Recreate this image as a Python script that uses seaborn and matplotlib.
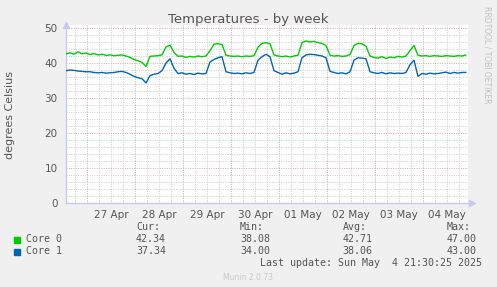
import matplotlib
matplotlib.use("Agg")
import matplotlib.pyplot as plt
import matplotlib.dates as mdates
import seaborn as sns
import pandas as pd
import numpy as np

# ---- data (2-hour samples) ----
start_time = "2025-04-26 13:30"
step_hours = 2

core0 = [42.6, 42.9, 42.5, 43.2, 42.6, 42.9, 42.4, 42.7, 42.3, 42.5,
         42.2, 42.3, 42.1, 42.2, 42.3, 42.0, 41.6, 41.0, 40.6, 40.2,
         39.0, 41.9, 42.0, 42.1, 42.3, 44.6, 45.1, 43.0, 41.9, 42.0,
         41.6, 41.9, 41.7, 42.0, 41.8, 42.0, 43.5, 45.4, 45.5, 45.3,
         42.2, 42.0, 41.9, 42.0, 41.8, 42.0, 41.9, 42.1, 44.5, 45.6,
         45.8, 45.5, 42.3, 42.0, 41.8, 42.0, 41.7, 42.0, 42.2, 45.8,
         46.3, 46.0, 46.2, 45.8, 45.6, 45.0, 42.2, 42.0, 42.1, 41.9,
         42.0, 42.4, 45.0, 45.6, 45.5, 44.8, 42.0, 41.6, 41.4, 41.8,
         41.3, 41.7, 41.5, 41.9, 41.7, 42.0, 43.5, 45.0, 42.2, 42.0,
         42.1, 41.9, 42.1, 42.0, 41.9, 42.1, 42.0, 41.9, 42.1, 42.0,
         42.3]
core1 = [37.8, 38.0, 37.9, 37.7, 37.6, 37.5, 37.5, 37.3, 37.2, 37.3,
         37.1, 37.2, 37.3, 37.5, 37.6, 37.3, 36.8, 36.2, 35.8, 35.5,
         34.3, 36.4, 36.8, 37.0, 37.8, 40.0, 41.2, 38.5, 37.0, 37.2,
         36.8, 37.0, 36.7, 37.1, 36.9, 37.0, 40.3, 41.0, 41.5, 41.8,
         37.5, 37.2, 37.0, 37.1, 36.9, 37.2, 37.0, 37.3, 40.8, 41.8,
         42.5, 41.8, 37.8, 37.3, 36.8, 37.2, 36.9, 37.1, 37.5, 41.5,
         42.3, 42.5, 42.4, 42.2, 42.0, 41.5, 37.6, 37.3, 37.0, 37.2,
         36.9, 37.5, 40.8, 41.5, 41.4, 41.2, 37.5, 37.2, 37.0, 37.3,
         36.9, 37.2, 37.0, 37.1, 37.0, 37.3, 39.5, 40.8, 36.2, 37.0,
         36.8, 37.1, 36.9, 37.0, 37.2, 37.4, 37.0, 37.3, 37.1, 37.3,
         37.3]
series_names = ["Core 0", "Core 1"]
series_colors = ["#00CC00", "#0066B3"]
stat_headers = ["Cur:", "Min:", "Avg:", "Max:"]
stats = [["42.34", "38.08", "42.71", "47.00"],
         ["37.34", "34.00", "38.06", "43.00"]]
title = "Temperatures - by week"
ylabel = "degrees Celsius"
last_update = "Last update: Sun May  4 21:30:25 2025"
footer = "Munin 2.0.73"
side_text = "RRDTOOL / TOBI OETIKER"
x_start = "2025-04-26 13:30"
x_end = "2025-05-04 22:30"

times = pd.date_range(start_time, periods=len(core0), freq=f"{step_hours}h")
df = pd.concat([
    pd.DataFrame({"time": times, "value": core0, "series": series_names[0]}),
    pd.DataFrame({"time": times, "value": core1, "series": series_names[1]}),
])

# ---- figure ----
sns.set_style("white")
plt.rcParams["font.family"] = ["DejaVu Sans"]
W, H = 497, 287
fig = plt.figure(figsize=(W / 100, H / 100), dpi=100, facecolor="#F0F0F0")
left, right, top_px, bot_px = 66, 468, 24.5, 203
ax = fig.add_axes([left / W, 1 - bot_px / H, (right - left) / W, (bot_px - top_px) / H])
ax.set_facecolor("white")

txt = "#555555"
gray_grid = "#CCCCCC"
red_grid = "#E8A0A0"
dot = (0, (1, 1.4))

ax.set_ylim(0, 51)
ax.set_xlim(pd.Timestamp(x_start), pd.Timestamp(x_end))

# grids
ax.yaxis.set_major_locator(matplotlib.ticker.MultipleLocator(10))
ax.yaxis.set_minor_locator(matplotlib.ticker.MultipleLocator(2))
ax.xaxis.set_major_locator(mdates.HourLocator(byhour=[12]))
ax.xaxis.set_minor_locator(mdates.HourLocator(byhour=[0, 6, 18]))
ax.xaxis.set_major_formatter(mdates.DateFormatter("%d %b"))
ax.grid(which="minor", color=gray_grid, linestyle=dot, linewidth=0.7)
ax.grid(which="major", axis="x", color=gray_grid, linestyle=dot, linewidth=0.7)
ax.grid(which="major", axis="y", color=red_grid, linestyle=dot, linewidth=0.7)
for d in pd.date_range("2025-04-27", "2025-05-04", freq="D"):
    ax.axvline(d, color=red_grid, linestyle=dot, linewidth=0.7, zorder=0.5)

sns.lineplot(data=df, x="time", y="value", hue="series", palette=series_colors,
             linewidth=1.0, ax=ax, legend=False, zorder=3)

ax.set_xlabel("")
ax.set_ylabel("")
ax.tick_params(axis="both", which="both", length=0, colors=txt, labelsize=7.5)
ax.tick_params(axis="x", pad=5)
ax.tick_params(axis="y", pad=6)
for s in ["top", "right"]:
    ax.spines[s].set_visible(False)
for s in ["left", "bottom"]:
    ax.spines[s].set_color("#C8C8F0")
    ax.spines[s].set_linewidth(1.0)
ax.plot([0], [1.0], marker="^", color="#C8C8F0", markersize=4, transform=ax.transAxes, clip_on=False)
ax.plot([1.01], [0], marker=">", color="#C8C8F0", markersize=4, transform=ax.transAxes, clip_on=False)

def fy(px):
    return 1 - px / H

fig.text(248.5 / W, fy(19.5), title, color=txt, fontsize=9.5, ha="center", va="center")
fig.text(10 / W, fy(115), ylabel, color=txt, fontsize=8, ha="center", va="center", rotation=90)

# legend / stats
mono = "DejaVu Sans Mono"
fs = 7.2
stat_x = [136, 240, 342.7, 446.7]
for j, h in enumerate(stat_headers):
    fig.text(stat_x[j] / W, fy(227), h, family=mono, fontsize=fs, color=txt, va="center")
rows_y = [239.5, 251.5]
for i, name in enumerate(series_names):
    y = rows_y[i]
    fig.patches.append(matplotlib.patches.Rectangle((14 / W, fy(y + 3)), 6 / W, 6 / H,
                                                    transform=fig.transFigure, color=series_colors[i]))
    fig.text(26 / W, fy(y), name, family=mono, fontsize=fs, color=txt, va="center")
    for j, v in enumerate(stats[i]):
        fig.text(stat_x[j] / W, fy(y), v, family=mono, fontsize=fs, color=txt, va="center")
fig.text(482.5 / W, fy(263), last_update, family=mono, fontsize=fs, color=txt, va="center", ha="right")
fig.text(248 / W, fy(277), footer, fontsize=5.5, color="#C8C8C8", va="center", ha="center")
fig.text(487 / W, fy(55), side_text, fontsize=5.5, color="#C0C0C0", va="center", ha="center", rotation=270)

fig.savefig("out.png", dpi=100, facecolor=fig.get_facecolor())
